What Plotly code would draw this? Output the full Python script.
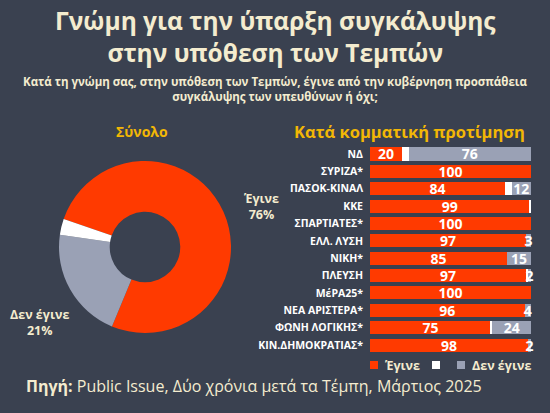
import plotly.graph_objects as go

# total (pie)
pie_labels = ["Έγινε", "Δεν έγινε", "ΔΓ/ΔΑ"]
pie_values = [76, 21, 3]

# by party preference (bars), top to bottom
parties = ["ΝΔ", "ΣΥΡΙΖΑ*", "ΠΑΣΟΚ-ΚΙΝΑΛ", "ΚΚΕ", "ΣΠΑΡΤΙΑΤΕΣ*", "ΕΛΛ. ΛΥΣΗ", "ΝΙΚΗ*",
           "ΠΛΕΥΣΗ", "ΜέΡΑ25*", "ΝΕΑ ΑΡΙΣΤΕΡΑ*", "ΦΩΝΗ ΛΟΓΙΚΗΣ*", "ΚΙΝ.ΔΗΜΟΚΡΑΤΙΑΣ*"]
yes_vals = [20, 100, 84, 99, 100, 97, 85, 97, 100, 96, 75, 98]
dk_vals = [4, 0, 4, 1, 0, 0, 0, 1, 0, 0, 1, 0]
no_vals = [76, 0, 12, 0, 0, 3, 15, 2, 0, 4, 24, 2]

BG = "#3A4150"
RED = "#FF3A00"
GREY = "#9AA1B5"
CREAM = "#F4ECCF"
GOLD = "#F2B705"
FONT = "Open Sans"
W, H = 550, 413


def label(v):
    return str(v) if v else ""


def px(x, y):
    # pixel position -> paper coords (margins are zero)
    return x / W, 1 - y / H


fig = go.Figure()

fig.add_trace(go.Pie(
    labels=pie_labels, values=pie_values, hole=0.41, sort=False,
    direction="clockwise", rotation=289,
    marker=dict(colors=[RED, GREY, "white"], line=dict(width=0)),
    textinfo="none", showlegend=False,
    domain=dict(x=[59 / W, 231 / W], y=[1 - 333 / H, 1 - 161 / H]),
))

bar_font = dict(family=FONT, size=14, color="white", weight="bold")
for name, vals, color, show in [("Έγινε", yes_vals, RED, True),
                                ("", dk_vals, "white", False),
                                ("Δεν έγινε", no_vals, GREY, True)]:
    fig.add_trace(go.Bar(
        y=parties, x=vals, orientation="h", name=name,
        marker=dict(color=color, line=dict(width=0)),
        text=[label(v) if show else "" for v in vals],
        textposition="inside", insidetextanchor="middle", textangle=0,
        textfont=bar_font, cliponaxis=False, showlegend=False,
    ))

fig.update_layout(
    width=W, height=H,
    margin=dict(l=0, r=0, t=0, b=0, autoexpand=False),
    paper_bgcolor=BG, plot_bgcolor=BG,
    font=dict(family=FONT, color=CREAM),
    barmode="stack", bargap=0.25, showlegend=False,
    uniformtext=dict(minsize=14, mode="show"),
    xaxis=dict(domain=[370 / W, 531 / W], range=[0, 100], visible=False, fixedrange=True),
    yaxis=dict(domain=[1 - 353.7 / H, 1 - 145.3 / H], autorange="reversed", showgrid=False,
               showline=False, zeroline=False, ticks="", automargin=False,
               tickfont=dict(family=FONT, size=10.5, color="white", weight="bold"),
               ticklabelstandoff=6),
)

# legend drawn by hand under the bars
legend_items = [(370, RED, "Έγινε"), (432, "white", ""), (457, GREY, "Δεν έγινε")]
for x0, color, text in legend_items:
    fig.add_shape(type="rect", xref="paper", yref="paper",
                  x0=x0 / W, x1=(x0 + 8) / W, y0=1 - 369 / H, y1=1 - 361 / H,
                  fillcolor=color, line=dict(width=0))
    if text:
        fig.add_annotation(text=text, x=(x0 + 13) / W, y=1 - 365 / H,
                           xanchor="left", yanchor="middle",
                           font=dict(size=12.5, color=CREAM, weight="bold"))

annotations = [
    dict(text="Γνώμη για την ύπαρξη συγκάλυψης<br>στην υπόθεση των Τεμπών", pos=px(275, 36),
         font=dict(size=24.5, color=CREAM, weight="bold")),
    dict(text="Κατά τη γνώμη σας, στην υπόθεση των Τεμπών, έγινε από την κυβέρνηση προσπάθεια<br>"
              "συγκάλυψης των υπευθύνων ή όχι;",
         pos=px(275, 89), font=dict(size=11.5, color=CREAM, weight="bold")),
    dict(text="Σύνολο", pos=px(142, 131), font=dict(size=14, color=GOLD, weight="bold")),
    dict(text="Κατά κομματική προτίμηση", pos=px(409, 131),
         font=dict(size=16.5, color=GOLD, weight="bold")),
    dict(text="Έγινε<br>76%", pos=px(261, 206), font=dict(size=12.5, color=CREAM, weight="bold")),
    dict(text="Δεν έγινε<br>21%", pos=px(39, 322), font=dict(size=12.5, color=CREAM, weight="bold")),
]
for a in annotations:
    x, y = a.pop("pos")
    fig.add_annotation(x=x, y=y, xanchor="center", yanchor="middle", align="center", **a)

fig.add_annotation(text="<b>Πηγή:</b> Public Issue, Δύο χρόνια μετά τα Τέμπη, Μάρτιος 2025",
                   x=24 / W, y=1 - 386 / H, xanchor="left", yanchor="middle",
                   font=dict(size=16, color=CREAM))

fig.update_annotations(xref="paper", yref="paper", showarrow=False)

fig.write_html("out.html", config={"displayModeBar": False},
               post_script="document.body.style.margin='0';"
                           f"document.body.style.background='{BG}';")
